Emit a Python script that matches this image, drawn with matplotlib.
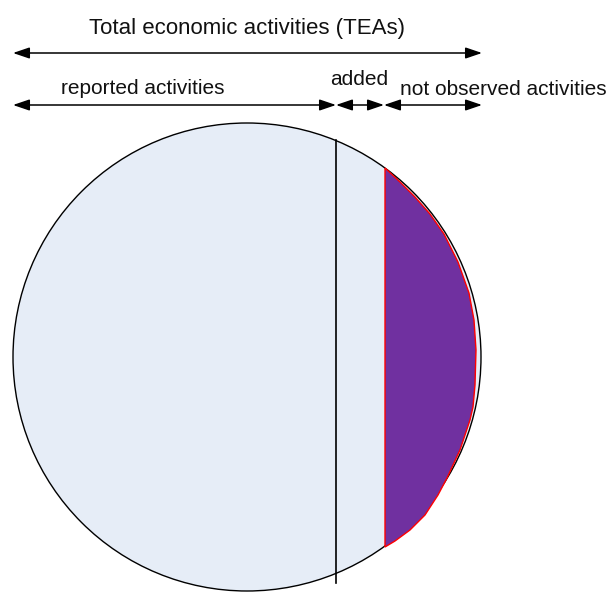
import matplotlib.pyplot as plt
import numpy as np
from matplotlib.patches import Circle, Polygon, FancyArrowPatch

plt.rcParams["font.family"] = ["Liberation Sans", "DejaVu Sans"]

# diagram geometry (pixel space of the original picture)
title = "Total economic activities (TEAs)"
seg_labels = ["reported activities", "added", "not observed activities"]
seg_edges = [13, 336, 384, 482]
circle_center = (247, 357)
circle_radius = 234

# hand-traced right edge of the not observed part
nobs_x = [385, 400, 415, 430, 444, 458, 469, 474, 476, 475, 473, 470, 460, 447, 438, 425, 410, 395, 385]
nobs_y = [168, 182, 197, 214, 234, 262, 293, 320, 350, 385, 407, 420, 450, 478, 495, 515, 530, 541, 547]

fig = plt.figure(figsize=(6.1, 5.92), dpi=100)
ax = fig.add_axes([0, 0, 1, 1])
ax.set_xlim(0, 610)
ax.set_ylim(592, 0)
ax.axis("off")

ax.add_patch(Circle(circle_center, circle_radius, facecolor="#e6edf7",
                    edgecolor="black", lw=1.0, zorder=1))

ax.add_patch(Polygon(np.column_stack([nobs_x, nobs_y]), closed=True,
                     facecolor="#7030a0", edgecolor="red", lw=1.0, zorder=2))

ax.plot([seg_edges[1], seg_edges[1]], [140, 583], color="black", lw=1.2, zorder=3)


def arrow(x0, x1, y):
    a = FancyArrowPatch((x0, y), (x1, y), arrowstyle="<|-|>,head_length=10,head_width=3.4",
                        color="black", lw=1.1, shrinkA=0, shrinkB=0, mutation_scale=1)
    ax.add_patch(a)


arrow(seg_edges[0], seg_edges[-1], 53)
for i in range(3):
    arrow(seg_edges[i], seg_edges[i + 1], 105)

ax.text(247, 34, title, ha="center", va="baseline", fontsize=16, color="#111111")
ax.text(143, 94, seg_labels[0], ha="center", va="baseline", fontsize=15, color="#111111")
ax.text(359, 85, seg_labels[1], ha="center", va="baseline", fontsize=15, color="#111111")
ax.text(503, 95, seg_labels[2], ha="center", va="baseline", fontsize=15, color="#111111")

fig.savefig("out.png", dpi=100)
